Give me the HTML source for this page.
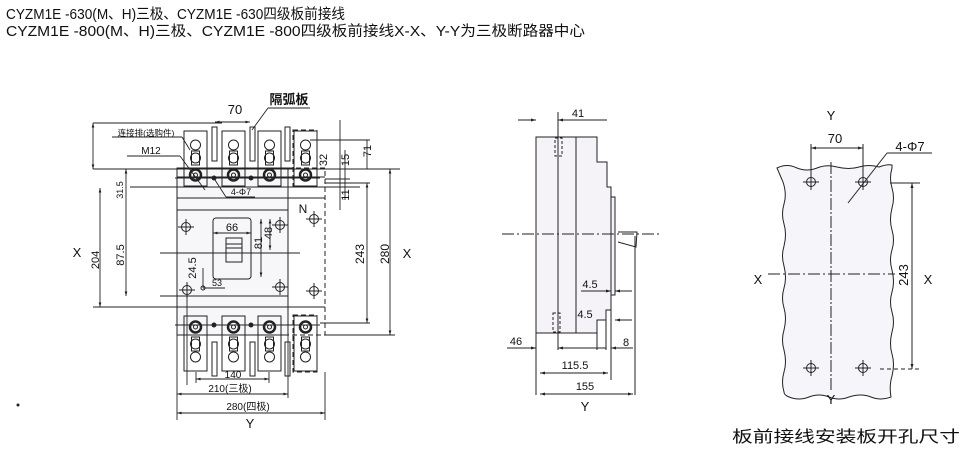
<!DOCTYPE html>
<html><head><meta charset="utf-8"><style>
html,body{margin:0;padding:0;background:#fff;}
svg{display:block;}
text{font-family:"Liberation Sans","Noto Sans CJK SC",sans-serif;fill:#111;}
</style></head><body>
<svg width="966" height="462" viewBox="0 0 966 462" xmlns="http://www.w3.org/2000/svg">
<defs>
<g id="pole" fill="none" stroke="#222" stroke-width="1">
 <rect x="0" y="0" width="23" height="55"/>
 <circle cx="11.5" cy="14" r="5"/>
 <circle cx="11.5" cy="27" r="5"/>
 <rect x="7.5" y="20" width="8" height="14"/>
 <circle cx="11.5" cy="44" r="5.5" stroke-width="2.5"/>
 <circle cx="11.5" cy="44" r="2" />
</g>
<g id="hole" fill="none" stroke="#222" stroke-width="1">
 <circle cx="0" cy="0" r="4.5"/>
 <line x1="-8" y1="0" x2="8" y2="0"/><line x1="0" y1="-8" x2="0" y2="8"/>
</g>
<marker id="a" viewBox="0 0 10 10" refX="10" refY="5" markerWidth="8" markerHeight="5" orient="auto-start-reverse"><path d="M0,2 L10,5 L0,8z" fill="#222"/></marker>
</defs>

<text x="6" y="19" font-size="14.5" textLength="339" lengthAdjust="spacingAndGlyphs">CYZM1E -630(M、H)三极、CYZM1E -630四级板前接线</text>
<text x="6" y="36" font-size="14.5" textLength="579" lengthAdjust="spacingAndGlyphs">CYZM1E -800(M、H)三极、CYZM1E -800四级板前接线X-X、Y-Y为三极断路器中心</text>

<!-- LEFT FRONT VIEW -->
<g stroke="#222" fill="none" stroke-width="1">
 <rect x="177" y="168" width="111" height="167" fill="#f7f7fa"/>
 <path d="M288,168 H325 V335 H288" stroke-dasharray="5,3"/>
 <line x1="177" y1="177" x2="325" y2="177"/>
 <line x1="177" y1="187" x2="288" y2="187"/>
 <line x1="177" y1="198" x2="325" y2="198"/>
 <line x1="177" y1="210" x2="288" y2="210"/>
 <rect x="213" y="218" width="38" height="61" rx="3"/>
 <rect x="226" y="238" width="16" height="24"/>
 <line x1="226" y1="244" x2="242" y2="244"/><line x1="226" y1="248" x2="242" y2="248"/>
 <line x1="160" y1="253" x2="300" y2="253"/>
 <line x1="160" y1="296" x2="288" y2="296"/>
 <line x1="93" y1="307" x2="325" y2="307"/>
 <line x1="93" y1="169" x2="400" y2="169"/>
 <line x1="130" y1="187" x2="360" y2="187"/>
 <line x1="93" y1="123" x2="222" y2="123"/>
 <line x1="310" y1="140" x2="370" y2="140"/>
 <line x1="320" y1="323" x2="370" y2="323"/>
 <line x1="325" y1="335" x2="395" y2="335"/>
 <line x1="325" y1="183" x2="370" y2="183"/>
 <line x1="325" y1="179" x2="350" y2="179"/>
</g>
<use href="#pole" x="184" y="131"/><use href="#pole" x="222" y="131"/><use href="#pole" x="258" y="131"/><use href="#pole" x="294" y="131"/>
<rect x="293" y="130" width="24" height="57" fill="none" stroke="#222" stroke-dasharray="5,3"/>
<g transform="translate(0,687) scale(1,-1)">
<use href="#pole" x="184" y="316"/><use href="#pole" x="222" y="316"/><use href="#pole" x="258" y="316"/><use href="#pole" x="294" y="316"/>
</g>
<rect x="293" y="315" width="24" height="57" fill="none" stroke="#222" stroke-dasharray="5,3"/>
<g stroke="#222" fill="#fff">
 <rect x="212" y="127" width="5" height="34"/><rect x="250" y="127" width="5" height="34"/><rect x="285" y="127" width="5" height="34"/>
 <rect x="212" y="342" width="5" height="34"/><rect x="250" y="342" width="5" height="34"/><rect x="285" y="342" width="5" height="34"/>
</g>
<g fill="#222"><circle cx="214" cy="178" r="2.5"/><circle cx="251" cy="178" r="2.5"/><circle cx="214" cy="325" r="2.5"/><circle cx="251" cy="325" r="2.5"/></g>
<g stroke="#222" stroke-width="1"><line x1="175" y1="178" x2="320" y2="178"/><line x1="175" y1="325" x2="320" y2="325"/></g>
<use href="#hole" x="186" y="227"/><use href="#hole" x="280" y="225"/><use href="#hole" x="314" y="219"/>
<use href="#hole" x="187" y="290"/><use href="#hole" x="280" y="287"/><use href="#hole" x="314" y="291"/>
<circle cx="203" cy="288" r="2" fill="none" stroke="#222"/>

<g stroke="#222" stroke-width="0.9" fill="none">
 <line x1="215" y1="122" x2="250" y2="122" marker-start="url(#a)" marker-end="url(#a)"/>
 <line x1="93" y1="123" x2="93" y2="169" marker-start="url(#a)" marker-end="url(#a)"/>
 <line x1="100" y1="188" x2="100" y2="307" marker-start="url(#a)" marker-end="url(#a)"/>
 <line x1="126" y1="169" x2="126" y2="296" marker-start="url(#a)" marker-end="url(#a)"/>
 <line x1="367" y1="183" x2="367" y2="323" marker-start="url(#a)" marker-end="url(#a)"/>
 <line x1="390" y1="169" x2="390" y2="335" marker-start="url(#a)" marker-end="url(#a)"/>
 <line x1="367" y1="140" x2="367" y2="169"/>
 <line x1="340" y1="120" x2="340" y2="210"/>
 <line x1="345" y1="150" x2="345" y2="200"/>
 <line x1="261" y1="219" x2="261" y2="277" marker-start="url(#a)" marker-end="url(#a)"/>
 <line x1="270" y1="219" x2="270" y2="250" marker-start="url(#a)" marker-end="url(#a)"/>
 <line x1="213" y1="233" x2="251" y2="233" marker-start="url(#a)" marker-end="url(#a)"/>
 <line x1="203" y1="268" x2="203" y2="288"/>
 <line x1="203" y1="288" x2="225" y2="288"/>
 <line x1="196" y1="379" x2="269" y2="379" marker-start="url(#a)" marker-end="url(#a)"/>
 <line x1="177" y1="394" x2="288" y2="394" marker-start="url(#a)" marker-end="url(#a)"/>
 <line x1="177" y1="413" x2="325" y2="413" marker-start="url(#a)" marker-end="url(#a)"/>
 <line x1="177" y1="335" x2="177" y2="420"/><line x1="288" y1="335" x2="288" y2="398"/><line x1="325" y1="372" x2="325" y2="420"/>
 <line x1="187" y1="290" x2="187" y2="385"/><line x1="196" y1="372" x2="196" y2="383"/><line x1="269" y1="372" x2="269" y2="383"/>
 <line x1="112" y1="137" x2="182" y2="137"/><line x1="182" y1="137" x2="190" y2="150"/>
 <line x1="127" y1="156" x2="180" y2="156"/><line x1="180" y1="156" x2="205" y2="190"/>
 <line x1="215" y1="180" x2="226" y2="197"/><line x1="226" y1="197" x2="255" y2="197"/>
 <line x1="268" y1="108" x2="310" y2="108"/><line x1="268" y1="108" x2="252" y2="130"/>
</g>
<text x="235" y="114" font-size="13" text-anchor="middle">70</text>
<text x="289" y="104" font-size="13" text-anchor="middle" font-weight="bold">隔弧板</text>
<text x="146" y="136" font-size="8.5" text-anchor="middle">连接排(选购件)</text>
<text x="151" y="154" font-size="10" text-anchor="middle">M12</text>
<text x="241" y="195" font-size="9" text-anchor="middle">4-Φ7</text>
<text x="77" y="257" font-size="13" text-anchor="middle">X</text>
<text x="407" y="258" font-size="13" text-anchor="middle">X</text>
<text x="303" y="213" font-size="12" text-anchor="middle">N</text>
<text x="232" y="231" font-size="11" text-anchor="middle">66</text>
<text x="217" y="286" font-size="9" text-anchor="middle">53</text>
<g font-size="11" text-anchor="middle">
<text transform="translate(99,260) rotate(-90)">204</text>
<text transform="translate(124,255) rotate(-90)">87.5</text>
<text transform="translate(123,190) rotate(-90)" font-size="9">31.5</text>
<text transform="translate(196,268) rotate(-90)">24.5</text>
<text transform="translate(262,243) rotate(-90)">81</text>
<text transform="translate(272,233) rotate(-90)">48</text>
<text transform="translate(327,160) rotate(-90)">32</text>
<text transform="translate(349,160) rotate(-90)">15</text>
<text transform="translate(371,151) rotate(-90)">71</text>
<text transform="translate(349,195) rotate(-90)">11</text>
<text transform="translate(364,254) rotate(-90)" font-size="12">243</text>
<text transform="translate(389,254) rotate(-90)" font-size="12">280</text>
</g>
<text x="233" y="378" font-size="10" text-anchor="middle">140</text>
<text x="230" y="392" font-size="10" text-anchor="middle">210(三极)</text>
<text x="248" y="410" font-size="10" text-anchor="middle">280(四极)</text>
<text x="250" y="428" font-size="13" text-anchor="middle">Y</text>

<!-- SIDE VIEW -->
<g stroke="#222" stroke-width="1" fill="none">
 <path d="M536,137 H597 V162 H607 V187 H611 V197 H615 V295 H611 V310 H606 V320 H597 V333 H536 Z" fill="#f5f3f8"/>
 <line x1="576" y1="137" x2="576" y2="333"/>
 <line x1="611" y1="197" x2="611" y2="300"/>
 <path d="M618,232 H637 L636,247 L618,242"/>
 <line x1="536" y1="333" x2="536" y2="395"/>
 <line x1="558" y1="112" x2="558" y2="350"/>
 <rect x="555" y="138" width="7" height="18" stroke-dasharray="3,2"/>
 <rect x="553" y="313" width="7" height="19" stroke-dasharray="3,2"/>
 <line x1="597" y1="320" x2="597" y2="350"/><line x1="606" y1="310" x2="606" y2="350"/><line x1="611" y1="300" x2="611" y2="380"/>
 <line x1="635" y1="236" x2="635" y2="395"/>
 <line x1="502" y1="234" x2="660" y2="234" stroke-dasharray="12,3,2,3"/>
 <line x1="518" y1="120" x2="536" y2="120" marker-end="url(#a)"/>
 <line x1="558" y1="120" x2="607" y2="120" marker-start="url(#a)"/>
 <line x1="581" y1="291" x2="611" y2="291" marker-end="url(#a)"/><line x1="632" y1="291" x2="615" y2="291" marker-end="url(#a)"/>
 <line x1="597" y1="320" x2="606" y2="320"/><line x1="632" y1="320" x2="615" y2="320" marker-end="url(#a)"/>
 <line x1="507" y1="348" x2="536" y2="348" marker-end="url(#a)"/><line x1="575" y1="348" x2="558" y2="348" marker-end="url(#a)"/>
 <line x1="575" y1="348" x2="606" y2="348"/><line x1="633" y1="348" x2="611" y2="348" marker-end="url(#a)"/>
 <line x1="540" y1="373" x2="608" y2="373" marker-start="url(#a)" marker-end="url(#a)"/>
 <line x1="540" y1="394" x2="633" y2="394" marker-start="url(#a)" marker-end="url(#a)"/>
</g>
<text x="578" y="117" font-size="11" text-anchor="middle">41</text>
<text x="590" y="288" font-size="11" text-anchor="middle">4.5</text>
<text x="585" y="318" font-size="11" text-anchor="middle">4.5</text>
<text x="516" y="345" font-size="11" text-anchor="middle">46</text>
<text x="626" y="346" font-size="11" text-anchor="middle">8</text>
<text x="575" y="369" font-size="11" text-anchor="middle">115.5</text>
<text x="585" y="390" font-size="11" text-anchor="middle">155</text>
<text x="585" y="411" font-size="13" text-anchor="middle">Y</text>

<!-- RIGHT PLATE -->
<g stroke="#222" stroke-width="1" fill="none">
 <path d="M777,168 q10,-5 20,0 q10,4 20,0 q10,-4 20,-1 q12,3 22,0 q10,-3 20,0 q8,-3 13,-2 v3 q-3,10 0,20 q3,10 0,20 q-3,12 0,22 q3,10 0,20 q-3,10 0,20 q3,12 0,22 q-3,10 0,20 q3,10 0,20 q-3,12 0,22 q3,10 0,22 q-3,10 -1,21 q-10,4 -20,0 q-10,-4 -22,0 q-10,4 -20,0 q-10,-4 -20,0 q-10,4 -20,0 q-5,-2 -5,-5 q-3,-10 0,-20 q3,-10 0,-22 q-3,-10 0,-20 q3,-12 0,-22 q-3,-10 0,-20 q3,-10 0,-22 q-3,-10 0,-20 q3,-12 0,-22 q-3,-10 0,-20 q3,-10 -1,-22 z" fill="#f6f5f9"/>
 <line x1="831" y1="162" x2="831" y2="392" stroke-dasharray="12,2,2,2"/>
 <line x1="768" y1="274" x2="895" y2="274" stroke-dasharray="12,3,2,3"/>
 <line x1="811" y1="144" x2="811" y2="180"/><line x1="863" y1="144" x2="863" y2="180"/>
 <line x1="811" y1="148" x2="863" y2="148" marker-start="url(#a)" marker-end="url(#a)"/>
 <line x1="887" y1="153" x2="932" y2="153"/><line x1="887" y1="153" x2="848" y2="203"/>
 <line x1="890" y1="183" x2="920" y2="183"/><line x1="880" y1="369" x2="920" y2="369" stroke-dasharray="4,3"/>
 <line x1="912" y1="183" x2="912" y2="369" marker-start="url(#a)" marker-end="url(#a)"/>
</g>
<use href="#hole" x="811" y="182"/><use href="#hole" x="863" y="182"/><use href="#hole" x="811" y="368"/><use href="#hole" x="863" y="368"/>
<text x="831" y="120" font-size="13" text-anchor="middle">Y</text>
<text x="835" y="143" font-size="13" text-anchor="middle">70</text>
<text x="910" y="151" font-size="13" text-anchor="middle">4-Φ7</text>
<text x="758" y="284" font-size="13" text-anchor="middle">X</text>
<text x="928" y="284" font-size="13" text-anchor="middle">X</text>
<text transform="translate(908,275) rotate(-90)" font-size="13" text-anchor="middle">243</text>
<text x="831" y="404" font-size="13" text-anchor="middle">Y</text>
<text x="732" y="442" font-size="16" textLength="228" lengthAdjust="spacingAndGlyphs">板前接线安装板开孔尺寸</text>
<circle cx="18" cy="405" r="1.5" fill="#222"/>
</svg>
</body></html>
